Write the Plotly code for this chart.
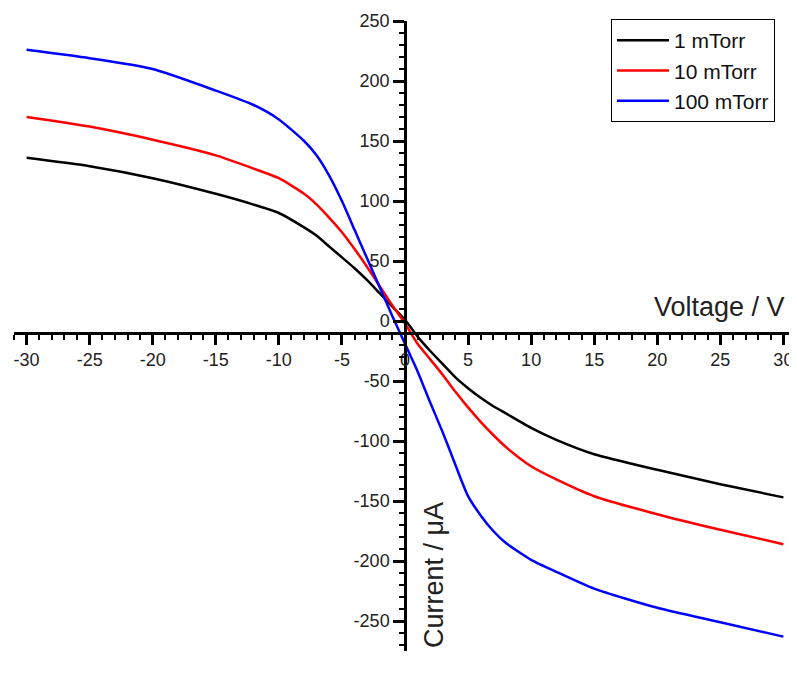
import plotly.graph_objects as go

# Voltage (V)
voltage = [-30, -25, -20, -15, -12, -10, -8, -7, -6, -5, -4, -3, -2, -1, 0,
           1, 2, 3, 4, 5, 6, 7, 8, 10, 12, 15, 20, 25, 30]

# Current (uA) for each pressure
current_1mTorr = [136, 129, 119, 106, 97, 90, 78, 71, 62, 53, 44, 34, 23, 12, 1,
                  -13, -25, -36, -47, -56, -64, -71, -77, -89, -99, -111, -124, -136, -147]
current_10mTorr = [170, 162, 151, 138, 127, 119, 106, 97, 86, 74, 60, 45, 29, 13, -2,
                   -19, -32, -45, -59, -72, -84, -95, -105, -121, -132, -146, -161, -174, -186]
current_100mTorr = [226, 219, 210, 192, 180, 168, 150, 138, 121, 100, 76, 52, 28, 4, -19,
                    -42, -68, -93, -120, -146, -162, -175, -185, -199, -209, -223, -239, -251, -263]

series_names = ["1 mTorr", "10 mTorr", "100 mTorr"]
series_colors = ["#000000", "#ff0000", "#0000ff"]

x_ticks = list(range(-30, 31, 5))
y_ticks = list(range(-250, 251, 50))

FONT = "Liberation Sans, Arial, sans-serif"

fig = go.Figure()
for name, col, ys in zip(series_names, series_colors,
                         [current_1mTorr, current_10mTorr, current_100mTorr]):
    fig.add_trace(go.Scatter(x=voltage, y=ys, mode="lines", name=name,
                             line=dict(color=col, width=2.5, shape="spline", smoothing=0.6)))

x_range = [-31, 31]
y_range = [-275, 250]
y_cross = -10  # x axis drawn at this current value
x_pos = (y_cross - y_range[0]) / (y_range[1] - y_range[0])
y_pos = (0 - x_range[0]) / (x_range[1] - x_range[0])

fig.update_layout(
    width=789, height=685,
    margin=dict(l=6, r=1, t=13, b=42),
    paper_bgcolor="white", plot_bgcolor="white",
    font=dict(family=FONT, color="#222222"),
    showlegend=True,
    legend=dict(x=0.7634, y=1.003, xanchor="left", yanchor="top",
                bordercolor="black", borderwidth=1, bgcolor="white",
                font=dict(size=21, color="#111111"), itemwidth=52,
                tracegroupgap=0),
    xaxis=dict(range=x_range, anchor="free", position=x_pos,
               tickvals=x_ticks, ticktext=[str(v) for v in x_ticks],
               showgrid=False, zeroline=False,
               showline=True, linecolor="black", linewidth=2.5,
               ticks="outside", ticklen=10, tickwidth=2.5, tickcolor="black",
               tickfont=dict(size=18, color="#222222"),
               minor=dict(dtick=1, ticks="outside", ticklen=5, tickwidth=2, tickcolor="black")),
    yaxis=dict(range=y_range, anchor="free", position=y_pos, side="left",
               tickvals=y_ticks, ticktext=[str(v) for v in y_ticks],
               showgrid=False, zeroline=False,
               showline=True, linecolor="black", linewidth=2.5,
               ticks="outside", ticklen=11, tickwidth=2.5, tickcolor="black",
               tickfont=dict(size=18, color="#222222"),
               minor=dict(dtick=10, ticks="outside", ticklen=5, tickwidth=2, tickcolor="black")),
    annotations=[
        dict(text="Voltage / V", xref="paper", yref="paper", x=0.988, y=0.5456,
             xanchor="right", yanchor="middle", showarrow=False,
             font=dict(size=27, color="#222222")),
        dict(text="Current / μA", xref="paper", yref="paper", x=0.538, y=0.12,
             xanchor="center", yanchor="middle", showarrow=False, textangle=-90,
             font=dict(size=27, color="#222222")),
    ],
)

fig.write_html("out.html", config={"displayModeBar": False})
